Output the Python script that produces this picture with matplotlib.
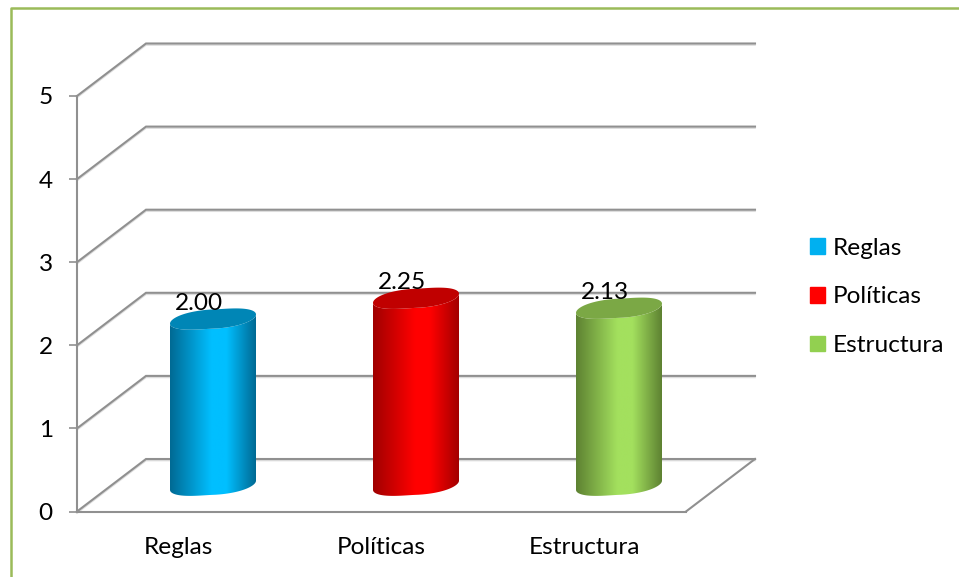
import numpy as np
import matplotlib
matplotlib.use("Agg")
import matplotlib.pyplot as plt
import matplotlib.patches as mpatches
from matplotlib.colors import LinearSegmentedColormap
from matplotlib.lines import Line2D

# ── Data ───────────────────────────────────────────────────────────────────────
categories = ["Reglas", "Políticas", "Estructura"]
values = [2.00, 2.25, 2.13]
y_ticks = [0, 1, 2, 3, 4, 5]

legend_colors = ["#00B0F0", "#FF0000", "#92D050"]
edge_colors = ["#006A94", "#A00000", "#5E8232"]
bright_colors = ["#00BFFF", "#FF0000", "#A3E05E"]
cap_colors = ["#0086B6", "#C00000", "#7BA845"]

GRID = "#909090"
FRAME = "#9BBB59"

W, H = 959, 577
plt.rcParams["font.family"] = ["Lato", "DejaVu Sans"]
FONT = 17.6

fig = plt.figure(figsize=(W / 100, H / 100), dpi=100)

# front plane of the 3D box, in pixels
left, right, top, bottom = 77, 686, 96, 511.5
ax = fig.add_axes([left / W, 1 - bottom / H, (right - left) / W, (bottom - top) / H])
ax.patch.set_alpha(0)
ax.set_xlim(0, len(categories))
ax.set_ylim(0, y_ticks[-1])

# pixel -> data scale, depth of the box
sx = len(categories) / (right - left)
sy = y_ticks[-1] / (bottom - top)
depth_x = 69 * sx
depth_y = 52.5 * sy

# ── Walls and floor ────────────────────────────────────────────────────────────
x_end = len(categories)
for v in y_ticks:
    ax.plot([0, depth_x, x_end + depth_x], [v, v + depth_y, v + depth_y],
            color="#DDDDDD", lw=1.2, clip_on=False, zorder=1,
            transform=ax.transData + matplotlib.transforms.Affine2D().translate(0, -1.5))
    ax.plot([0, depth_x, x_end + depth_x], [v, v + depth_y, v + depth_y],
            color=GRID, lw=1.5, clip_on=False, zorder=1.1, solid_joinstyle="miter")
ax.plot([x_end, x_end + depth_x], [0, depth_y], color=GRID, lw=1.5, clip_on=False, zorder=1.1)

for side in ["top", "right"]:
    ax.spines[side].set_visible(False)
for side in ["left", "bottom"]:
    ax.spines[side].set_color(GRID)
    ax.spines[side].set_linewidth(1.5)

ax.set_yticks(y_ticks)
ax.set_xticks(np.arange(len(categories)) + 0.5)
ax.set_xticklabels(categories)
ax.tick_params(axis="y", length=5.5, width=1.2, color=GRID, labelsize=FONT, pad=12)
ax.tick_params(axis="x", length=0, labelsize=FONT, pad=18.5)


# ── Cylinders ──────────────────────────────────────────────────────────────────
def ellipse_pts(cx, cy, t):
    """Tilted, slightly blunt ellipse on the cylinder ends, in data coords."""
    c = np.cos(t)
    blunt = np.sign(c) * np.abs(c) ** 0.75
    return (cx + 43 * blunt * sx,
            cy + (4.6 * c + 9.6 * np.sin(t)) * sy)


for i, val in enumerate(values):
    cx = i + 0.5 + depth_x / 2
    y0 = depth_y / 2
    y1 = val + depth_y / 2

    t_low = np.linspace(np.pi, 2 * np.pi, 60)
    bx, by = ellipse_pts(cx, y0, t_low)
    tx, ty = ellipse_pts(cx, y1, t_low[::-1])
    side_poly = mpatches.Polygon(np.column_stack([np.r_[bx, tx], np.r_[by, ty]]),
                                 closed=True, facecolor="none", edgecolor="none",
                                 transform=ax.transData)
    ax.add_patch(side_poly)

    cmap = LinearSegmentedColormap.from_list(
        "cyl", [(0, edge_colors[i]), (0.48, bright_colors[i]),
                (0.66, bright_colors[i]), (1, edge_colors[i])])
    half = 43 * sx
    im = ax.imshow(np.linspace(0, 1, 128).reshape(1, -1), cmap=cmap, aspect="auto",
                   extent=[cx - half, cx + half, y0 - 12 * sy, y1 + 12 * sy],
                   zorder=2, clip_on=True)
    im.set_clip_path(side_poly)

    capx, capy = ellipse_pts(cx, y1, np.linspace(0, 2 * np.pi, 120))
    ax.fill(capx, capy, color=cap_colors[i], lw=0, zorder=3, clip_on=False)

    ax.annotate(f"{val:.2f}", xy=(cx, y1), xytext=(-14, 16), textcoords="offset pixels",
                ha="center", va="center", fontsize=FONT, color="black", zorder=5,
                annotation_clip=False)

ax.set_xlim(0, len(categories))
ax.set_ylim(0, y_ticks[-1])

# ── Legend ─────────────────────────────────────────────────────────────────────
handles = [mpatches.Patch(color=c, label=n) for c, n in zip(legend_colors, categories)]
fig.legend(handles=handles, loc="center left", bbox_to_anchor=(788 / W, 1 - 297 / H),
           frameon=False, fontsize=FONT, handlelength=0.62, handleheight=0.62,
           handletextpad=0.3, labelspacing=1.13)

# ── Outer frame (only left and top sides visible) ──────────────────────────────
fig.add_artist(Line2D([11 / W, 11 / W, 1], [0, 1 - 7.5 / H, 1 - 7.5 / H],
                      color=FRAME, lw=1.8, transform=fig.transFigure))

fig.savefig("out.png", dpi=100)
